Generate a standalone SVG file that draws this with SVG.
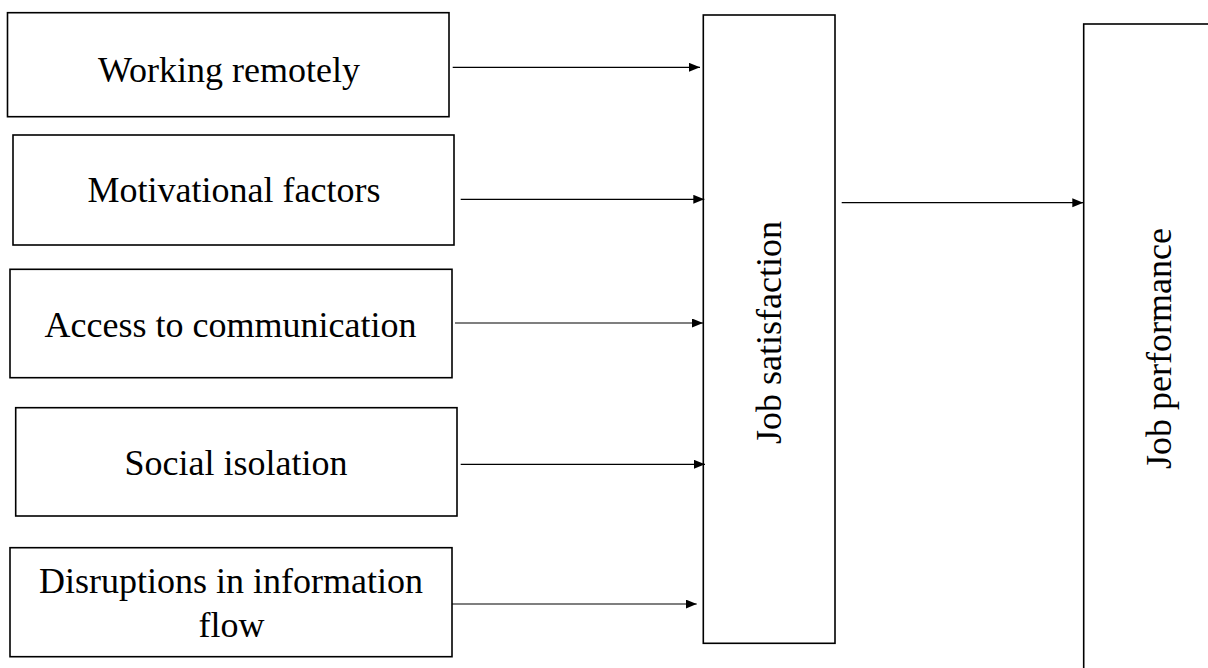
<svg xmlns="http://www.w3.org/2000/svg" width="1208" height="668" viewBox="0 0 1208 668">
<style>
.box{fill:#fff;stroke:#000;stroke-width:1.6}
.lbl{font-family:"Liberation Serif","Times New Roman",serif;font-size:36px;fill:#000;text-anchor:middle}
.con{stroke:#000;stroke-width:1.2;fill:none;marker-end:url(#ah)}
</style>
<defs>
<marker id="ah" markerUnits="userSpaceOnUse" markerWidth="12" markerHeight="10" refX="11" refY="4.5" orient="auto">
<path d="M0,0 L11,4.5 L0,9 z" fill="#000"/>
</marker>
</defs>
<rect width="1208" height="668" fill="#fff"/>
<g id="n-working">
<rect class="box" x="7.5" y="12.7" width="441.5" height="104"/>
<text class="lbl" x="229" y="81.7">Working remotely</text>
</g>
<g id="n-motivational">
<rect class="box" x="13" y="135" width="441" height="110"/>
<text class="lbl" x="234" y="202.3">Motivational factors</text>
</g>
<g id="n-access">
<rect class="box" x="10" y="269.3" width="442" height="108.4"/>
<text class="lbl" x="230.5" y="337.3">Access to communication</text>
</g>
<g id="n-social">
<rect class="box" x="15.7" y="407.7" width="441.3" height="108.3"/>
<text class="lbl" x="236" y="475">Social isolation</text>
</g>
<g id="n-disruptions">
<rect class="box" x="10" y="547.7" width="442" height="109"/>
<text class="lbl" x="231" y="592.7">Disruptions in information</text>
<text class="lbl" x="231.5" y="636.7">flow</text>
</g>
<g id="n-satisfaction">
<rect class="box" x="703.3" y="15" width="131.7" height="628.3"/>
<text class="lbl" transform="translate(781,332.5) rotate(-90)">Job satisfaction</text>
</g>
<g id="n-performance">
<rect class="box" x="1083.7" y="24" width="200" height="700"/>
<text class="lbl" transform="translate(1170.7,348.5) rotate(-90)">Job performance</text>
</g>
<g id="connectors">
<line class="con" x1="452.7" y1="67.3" x2="700" y2="67.3"/>
<line class="con" x1="460.7" y1="199.3" x2="704.3" y2="199.3"/>
<line class="con" x1="455" y1="323" x2="703" y2="323"/>
<line class="con" x1="460.7" y1="464.3" x2="705" y2="464.3"/>
<line class="con" x1="452" y1="604" x2="696.7" y2="604"/>
<line class="con" x1="841.7" y1="202.7" x2="1083.3" y2="202.7"/>
</g>
</svg>
